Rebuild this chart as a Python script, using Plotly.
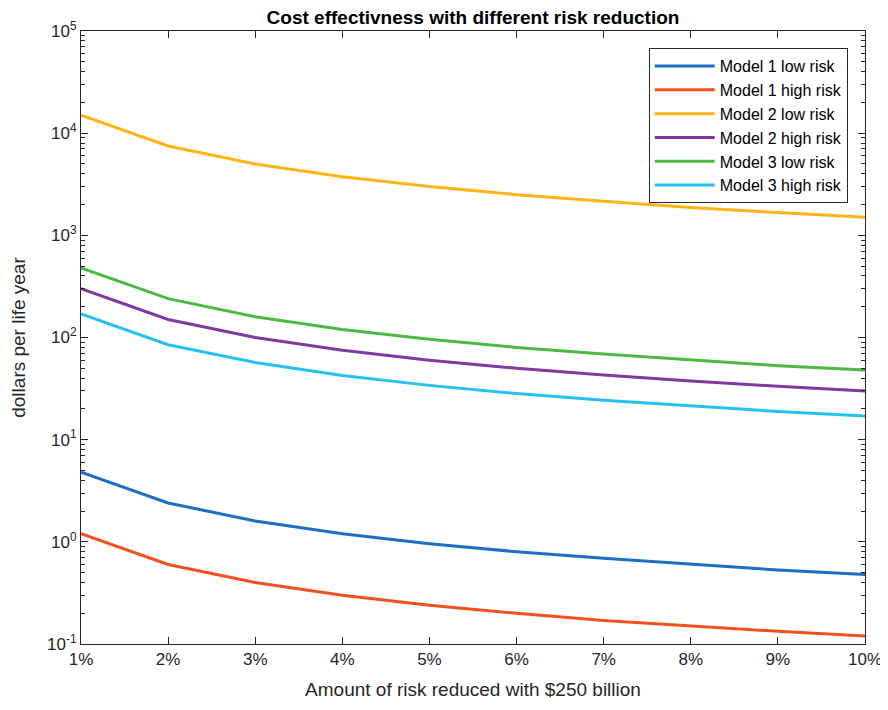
import plotly.graph_objects as go

risk_reduced = [1, 2, 3, 4, 5, 6, 7, 8, 9, 10]
x_tick_labels = ["1%", "2%", "3%", "4%", "5%", "6%", "7%", "8%", "9%", "10%"]

model1_low = [4.8, 2.4, 1.6, 1.2, 0.96, 0.8, 0.69, 0.6, 0.53, 0.48]
model1_high = [1.2, 0.6, 0.4, 0.3, 0.24, 0.2, 0.17, 0.15, 0.133, 0.12]
model2_low = [15000, 7500, 5000, 3750, 3000, 2500, 2150, 1875, 1670, 1500]
model2_high = [300, 150, 100, 75, 60, 50, 43, 37.5, 33.3, 30]
model3_low = [480, 240, 160, 120, 96, 80, 69, 60, 53, 48]
model3_high = [170, 85, 57, 42.5, 34, 28.3, 24.3, 21.3, 18.9, 17]

series_names = ["Model 1 low risk", "Model 1 high risk", "Model 2 low risk",
                "Model 2 high risk", "Model 3 low risk", "Model 3 high risk"]
series_values = [model1_low, model1_high, model2_low, model2_high, model3_low, model3_high]
colors = ["#1F6EC4", "#F2501F", "#FDB515", "#7E3A9E", "#4CB944", "#27C0F2"]

y_tick_vals = [0.1, 1, 10, 100, 1000, 10000, 100000]
y_tick_text = ["10<sup>-1</sup>", "10<sup>0</sup>", "10<sup>1</sup>", "10<sup>2</sup>",
               "10<sup>3</sup>", "10<sup>4</sup>", "10<sup>5</sup>"]

fig = go.Figure()
for name, vals, c in zip(series_names, series_values, colors):
    fig.add_trace(go.Scatter(x=risk_reduced, y=vals, mode="lines", name=name,
                             line=dict(color=c, width=3)))

font_family = "Liberation Sans, Arial, sans-serif"

# page body has an 8px default margin; figure sized to fit the window
W, H = 880, 702
fig.update_layout(
    width=W, height=H,
    margin=dict(l=73, r=23, t=23, b=66, autoexpand=False),
    paper_bgcolor="white", plot_bgcolor="white",
    font=dict(family=font_family, size=17, color="#262626"),
    title=dict(text="<b>Cost effectivness with different risk reduction</b>",
               x=465 / W, xanchor="center", y=1 - 3 / H, yanchor="top",
               font=dict(size=19, color="#000000")),
    legend=dict(x=0.978, xanchor="right", y=0.972, yanchor="top",
                bgcolor="white", bordercolor="#262626", borderwidth=1,
                itemwidth=60,
                font=dict(size=16, color="#000000"), tracegroupgap=0),
    showlegend=True,
)

fig.update_xaxes(
    type="linear", range=[1, 10], automargin=False,
    tickvals=risk_reduced, ticktext=x_tick_labels,
    ticks="inside", ticklen=7, tickcolor="#262626",
    showline=True, linecolor="#262626", linewidth=1, mirror="ticks",
    showgrid=False, zeroline=False,
    tickfont=dict(size=17, color="#262626"),
    title=dict(text="Amount of risk reduced with $250 billion", standoff=14,
               font=dict(size=19, color="#262626")),
)

fig.update_yaxes(
    type="log", range=[-1, 5], automargin=False,
    tickvals=y_tick_vals, ticktext=y_tick_text,
    ticks="inside", ticklen=7, tickcolor="#262626",
    minor=dict(ticks="inside", ticklen=4, tickcolor="#262626",
               tickvals=[m * 10 ** e for e in range(-1, 5) for m in range(2, 10)],
               showgrid=False),
    showline=True, linecolor="#262626", linewidth=1, mirror="ticks",
    showgrid=False, zeroline=False,
    tickfont=dict(size=17, color="#262626"),
    title=dict(text="dollars per life year", standoff=17,
               font=dict(size=19, color="#262626")),
)

fig.write_html("out.html")
